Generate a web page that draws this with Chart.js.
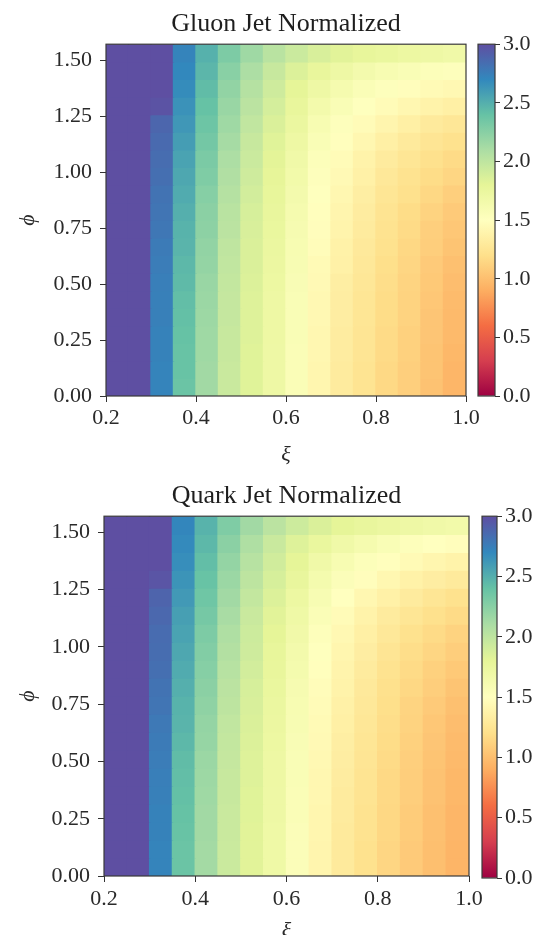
<!DOCTYPE html>
<html>
<head>
<meta charset="utf-8">
<script src="https://cdn.jsdelivr.net/npm/chart.js@4.4.1/dist/chart.umd.min.js"></script>
<style>
  html, body { margin: 0; padding: 0; background: #fff; overflow: hidden; }
  #wrap { position: relative; width: 534px; height: 935px; overflow: hidden; }
  canvas { position: absolute; }
</style>
</head>
<body>
<div id="wrap">
  <canvas id="gluonMap" width="534" height="470" style="left:0;top:0"></canvas>
  <canvas id="gluonBar" width="74" height="470" style="left:460px;top:0"></canvas>
  <canvas id="quarkMap" width="534" height="480" style="left:0;top:470px"></canvas>
  <canvas id="quarkBar" width="74" height="480" style="left:460px;top:470px"></canvas>
</div>
<script>
// bin edges
const xiEdges = [0.20, 0.25, 0.30, 0.35, 0.40, 0.45, 0.50, 0.55, 0.60, 0.65, 0.70, 0.75, 0.80, 0.85, 0.90, 0.95, 1.00];
const phiEdges = [0, 0.0785, 0.1571, 0.2356, 0.3142, 0.3927, 0.4712, 0.5498, 0.6283, 0.7069, 0.7854,
  0.8639, 0.9425, 1.0210, 1.0996, 1.1781, 1.2566, 1.3352, 1.4137, 1.4923, 1.5708];

// tick labels
const xiTicks = [0.2, 0.4, 0.6, 0.8, 1.0];
const phiTicks = [0, 0.25, 0.5, 0.75, 1.0, 1.25, 1.5];
const colorTicks = [0, 0.5, 1.0, 1.5, 2.0, 2.5, 3.0];

// normalized density, one row per phi bin (bottom row first), one value per xi bin
const gluon = [
  [4.3, 3.4, 2.72, 2.38, 2.14, 1.95, 1.83, 1.70, 1.56, 1.41, 1.31, 1.24, 1.16, 1.10, 1.02, 0.95],
  [4.3, 3.4, 2.72, 2.39, 2.14, 1.95, 1.83, 1.70, 1.56, 1.41, 1.31, 1.24, 1.16, 1.10, 1.03, 0.95],
  [4.3, 3.4, 2.73, 2.39, 2.15, 1.96, 1.83, 1.70, 1.56, 1.42, 1.32, 1.25, 1.17, 1.11, 1.03, 0.96],
  [4.3, 3.4, 2.73, 2.40, 2.15, 1.96, 1.84, 1.71, 1.57, 1.42, 1.32, 1.25, 1.17, 1.11, 1.04, 0.97],
  [4.3, 3.4, 2.74, 2.41, 2.16, 1.97, 1.84, 1.71, 1.57, 1.43, 1.33, 1.26, 1.18, 1.12, 1.04, 0.97],
  [4.3, 3.4, 2.74, 2.42, 2.17, 1.97, 1.84, 1.71, 1.57, 1.43, 1.33, 1.26, 1.18, 1.12, 1.05, 0.98],
  [4.3, 3.5, 2.75, 2.44, 2.18, 1.98, 1.85, 1.72, 1.58, 1.44, 1.34, 1.27, 1.19, 1.13, 1.06, 0.99],
  [4.4, 3.5, 2.76, 2.45, 2.20, 1.99, 1.86, 1.73, 1.59, 1.45, 1.36, 1.28, 1.20, 1.14, 1.07, 1.01],
  [4.4, 3.5, 2.77, 2.47, 2.21, 2.00, 1.86, 1.74, 1.60, 1.47, 1.37, 1.29, 1.22, 1.15, 1.09, 1.03],
  [4.4, 3.5, 2.79, 2.48, 2.23, 2.02, 1.87, 1.75, 1.61, 1.48, 1.39, 1.31, 1.23, 1.17, 1.10, 1.05],
  [4.4, 3.5, 2.80, 2.50, 2.24, 2.03, 1.88, 1.76, 1.62, 1.49, 1.40, 1.32, 1.24, 1.18, 1.12, 1.07],
  [4.5, 3.6, 2.81, 2.52, 2.26, 2.05, 1.90, 1.78, 1.64, 1.51, 1.42, 1.34, 1.26, 1.21, 1.15, 1.10],
  [4.5, 3.6, 2.83, 2.54, 2.29, 2.07, 1.92, 1.79, 1.66, 1.52, 1.44, 1.36, 1.28, 1.23, 1.18, 1.14],
  [4.5, 3.6, 2.84, 2.56, 2.31, 2.09, 1.94, 1.81, 1.68, 1.54, 1.46, 1.38, 1.31, 1.26, 1.21, 1.17],
  [4.6, 3.7, 2.86, 2.59, 2.34, 2.12, 1.96, 1.83, 1.71, 1.57, 1.49, 1.42, 1.35, 1.30, 1.25, 1.22],
  [4.6, 3.7, 2.88, 2.62, 2.37, 2.15, 1.99, 1.86, 1.74, 1.60, 1.52, 1.46, 1.40, 1.35, 1.30, 1.27],
  [4.7, 3.8, 2.98, 2.65, 2.40, 2.18, 2.02, 1.89, 1.77, 1.65, 1.57, 1.51, 1.46, 1.42, 1.38, 1.35],
  [4.7, 3.8, 3.05, 2.68, 2.43, 2.21, 2.05, 1.92, 1.80, 1.70, 1.62, 1.56, 1.52, 1.48, 1.45, 1.43],
  [4.7, 3.8, 3.10, 2.70, 2.46, 2.25, 2.09, 1.96, 1.85, 1.77, 1.70, 1.64, 1.60, 1.57, 1.54, 1.52],
  [4.8, 3.9, 3.15, 2.72, 2.49, 2.30, 2.15, 2.03, 1.94, 1.87, 1.82, 1.78, 1.75, 1.72, 1.70, 1.68],
];

const quark = [
  [4.2, 3.3, 2.72, 2.38, 2.13, 1.94, 1.82, 1.69, 1.55, 1.40, 1.30, 1.22, 1.14, 1.07, 1.00, 0.94],
  [4.2, 3.3, 2.72, 2.38, 2.13, 1.94, 1.82, 1.69, 1.55, 1.40, 1.30, 1.22, 1.14, 1.07, 1.00, 0.94],
  [4.2, 3.3, 2.73, 2.39, 2.14, 1.95, 1.82, 1.69, 1.55, 1.41, 1.30, 1.23, 1.15, 1.08, 1.01, 0.95],
  [4.2, 3.3, 2.73, 2.40, 2.14, 1.95, 1.83, 1.70, 1.56, 1.41, 1.31, 1.23, 1.15, 1.08, 1.01, 0.95],
  [4.2, 3.3, 2.74, 2.41, 2.15, 1.96, 1.83, 1.70, 1.56, 1.42, 1.31, 1.24, 1.16, 1.09, 1.02, 0.96],
  [4.3, 3.4, 2.75, 2.42, 2.16, 1.96, 1.84, 1.71, 1.57, 1.42, 1.32, 1.24, 1.16, 1.09, 1.02, 0.96],
  [4.3, 3.4, 2.76, 2.43, 2.17, 1.97, 1.84, 1.71, 1.57, 1.43, 1.33, 1.25, 1.17, 1.10, 1.03, 0.97],
  [4.3, 3.4, 2.77, 2.45, 2.19, 1.98, 1.85, 1.72, 1.58, 1.44, 1.34, 1.26, 1.18, 1.11, 1.04, 0.98],
  [4.3, 3.5, 2.78, 2.47, 2.20, 1.99, 1.86, 1.73, 1.59, 1.45, 1.35, 1.27, 1.19, 1.12, 1.05, 0.99],
  [4.4, 3.5, 2.80, 2.48, 2.22, 2.01, 1.87, 1.74, 1.60, 1.46, 1.36, 1.28, 1.20, 1.13, 1.07, 1.01],
  [4.4, 3.5, 2.81, 2.50, 2.24, 2.02, 1.88, 1.75, 1.61, 1.47, 1.38, 1.29, 1.21, 1.15, 1.09, 1.03],
  [4.4, 3.5, 2.83, 2.52, 2.26, 2.04, 1.90, 1.77, 1.63, 1.49, 1.39, 1.31, 1.23, 1.17, 1.11, 1.06],
  [4.5, 3.6, 2.84, 2.54, 2.28, 2.06, 1.92, 1.78, 1.65, 1.51, 1.41, 1.33, 1.25, 1.19, 1.14, 1.09],
  [4.5, 3.6, 2.85, 2.56, 2.30, 2.08, 1.93, 1.80, 1.67, 1.53, 1.43, 1.35, 1.28, 1.22, 1.17, 1.12],
  [4.5, 3.6, 2.87, 2.58, 2.33, 2.11, 1.95, 1.82, 1.69, 1.56, 1.46, 1.38, 1.31, 1.26, 1.21, 1.17],
  [4.6, 3.7, 2.89, 2.61, 2.36, 2.14, 1.98, 1.85, 1.72, 1.59, 1.50, 1.42, 1.36, 1.31, 1.26, 1.22],
  [4.6, 3.7, 2.97, 2.64, 2.39, 2.17, 2.01, 1.88, 1.76, 1.63, 1.55, 1.48, 1.42, 1.37, 1.33, 1.30],
  [4.7, 3.8, 3.04, 2.67, 2.42, 2.20, 2.04, 1.91, 1.80, 1.68, 1.60, 1.54, 1.49, 1.45, 1.41, 1.38],
  [4.7, 3.8, 3.09, 2.69, 2.45, 2.24, 2.08, 1.95, 1.84, 1.75, 1.68, 1.62, 1.57, 1.53, 1.50, 1.48],
  [4.8, 3.9, 3.14, 2.71, 2.48, 2.29, 2.14, 2.02, 1.93, 1.86, 1.80, 1.76, 1.73, 1.70, 1.68, 1.66],
];

// matplotlib Spectral, low -> high
const spectralStops = ['#9e0142', '#d53e4f', '#f46d43', '#fdae61', '#fee08b', '#ffffbf',
  '#e6f598', '#abdda4', '#66c2a5', '#3288bd', '#5e4fa2'];
const vmax = 3;

Chart.defaults.font.family = "'Liberation Serif', 'DejaVu Serif', serif";
Chart.defaults.font.size = 22;
Chart.defaults.color = '#2a2a2a';

const hexRgb = (h) => [1, 3, 5].map((i) => parseInt(h.slice(i, i + 2), 16));
const spectral = (t) => {
  t = Math.max(0, Math.min(1, t));
  const n = spectralStops.length - 1;
  const i = Math.min(n - 1, Math.floor(t * n));
  const f = t * n - i;
  const a = hexRgb(spectralStops[i]), b = hexRgb(spectralStops[i + 1]);
  return 'rgb(' + a.map((v, k) => Math.round(v + (b[k] - v) * f)).join(',') + ')';
};

const frame = {
  id: 'frame',
  afterDatasetsDraw(chart) {
    const { ctx, chartArea: a } = chart;
    ctx.save();
    ctx.strokeStyle = '#3a3a3a';
    ctx.lineWidth = 1.2;
    ctx.strokeRect(a.left, a.top, a.right - a.left, a.bottom - a.top);
    ctx.restore();
  },
};

const tickGrid = (len) => ({ drawOnChartArea: false, offset: false, tickLength: len, color: '#333', lineWidth: 1 });

const createHeatmap = (id, title, grid, box) => {
  const pts = [];
  const cols = [];
  grid.forEach((row, r) => row.forEach((v, c) => {
    pts.push({ x: (xiEdges[c] + xiEdges[c + 1]) / 2, y: [phiEdges[r], phiEdges[r + 1]] });
    cols.push(spectral(v / vmax));
  }));

  new Chart(document.getElementById(id), {
    type: 'bar',
    data: {
      datasets: [{
        data: pts,
        backgroundColor: cols,
        borderWidth: 0,
        inflateAmount: 0.7,
        grouped: false,
        barPercentage: 1,
        categoryPercentage: 1,
      }],
    },
    options: {
      responsive: false,
      animation: false,
      layout: { padding: { left: 15, right: box.right, top: 0, bottom: box.bottom } },
      plugins: {
        legend: { display: false },
        tooltip: { enabled: false },
        title: {
          display: true,
          text: title,
          fullSize: false,
          color: '#1e1e1e',
          font: { size: 26, weight: 'normal' },
          padding: { top: box.titleTop, bottom: box.titleBottom },
        },
      },
      scales: {
        x: {
          type: 'linear',
          min: xiEdges[0],
          max: xiEdges[xiEdges.length - 1],
          offset: false,
          afterBuildTicks: (s) => { s.ticks = xiTicks.map((v) => ({ value: v })); },
          afterFit: (s) => { s.height = box.xHeight; },
          ticks: { padding: box.xPad, maxRotation: 0, autoSkip: false, callback: (v) => Number(v).toFixed(1) },
          grid: tickGrid(6),
          border: { display: false },
          title: { display: true, text: 'ξ', font: { style: 'italic', size: 22 }, padding: 0 },
        },
        y: {
          type: 'linear',
          min: phiEdges[0],
          max: phiEdges[phiEdges.length - 1],
          afterBuildTicks: (s) => { s.ticks = phiTicks.map((v) => ({ value: v })); },
          afterFit: (s) => { s.width = box.yWidth; },
          ticks: { padding: 8, autoSkip: false, callback: (v) => Number(v).toFixed(2) },
          grid: tickGrid(6),
          border: { display: false },
          title: { display: true, text: 'ϕ', font: { style: 'italic', size: 22 }, padding: 0 },
        },
      },
    },
    plugins: [frame],
  });
};

const createColorbar = (id, box) => {
  new Chart(document.getElementById(id), {
    type: 'bar',
    data: {
      labels: [''],
      datasets: [{
        data: [[colorTicks[0], colorTicks[colorTicks.length - 1]]],
        backgroundColor: (c) => {
          const chart = c.chart;
          const y = chart.scales.y;
          if (!chart.chartArea || !y) return '#fff';
          const g = chart.ctx.createLinearGradient(0, y.getPixelForValue(0), 0, y.getPixelForValue(vmax));
          spectralStops.forEach((col, i) => g.addColorStop(i / (spectralStops.length - 1), col));
          return g;
        },
        borderWidth: 0,
        barPercentage: 1,
        categoryPercentage: 1,
      }],
    },
    options: {
      responsive: false,
      animation: false,
      layout: { padding: { left: box.left, right: 0, top: box.top, bottom: box.bottom } },
      plugins: { legend: { display: false }, tooltip: { enabled: false } },
      scales: {
        x: { display: false },
        y: {
          position: 'right',
          min: 0,
          max: vmax,
          afterBuildTicks: (s) => { s.ticks = colorTicks.map((v) => ({ value: v })); },
          afterFit: (s) => { s.width = box.axisWidth; },
          ticks: { padding: 3, autoSkip: false, callback: (v) => Number(v).toFixed(1) },
          grid: tickGrid(5),
          border: { display: false },
        },
      },
    },
    plugins: [frame],
  });
};

createHeatmap('gluonMap', 'Gluon Jet Normalized', gluon,
  { right: 68, bottom: 2, titleTop: 9, titleBottom: 4, xHeight: 72, xPad: 3, yWidth: 91 });
createColorbar('gluonBar', { left: 18, top: 44.2, bottom: 74, axisWidth: 39 });

createHeatmap('quarkMap', 'Quark Jet Normalized', quark,
  { right: 65, bottom: 6, titleTop: 11, titleBottom: 4, xHeight: 68, xPad: 4, yWidth: 89 });
createColorbar('quarkBar', { left: 22, top: 46.2, bottom: 72, axisWidth: 37 });
</script>
</body>
</html>
